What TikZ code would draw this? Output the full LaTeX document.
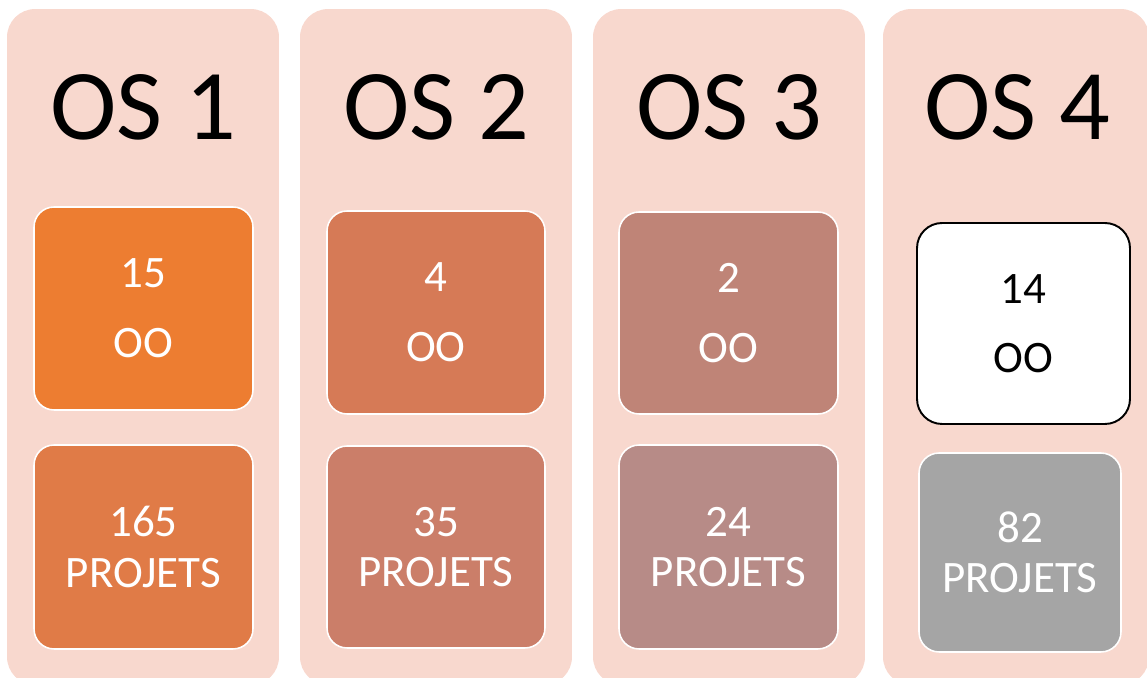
\documentclass[tikz,border=0pt]{standalone}
\usepackage{fontspec}
\setmainfont{Carlito}
\usepackage{tikz}
\usetikzlibrary{positioning}
\definecolor{panelbg}{HTML}{F8D8CE}
\definecolor{osone}{HTML}{ED7D31}
\definecolor{osonep}{HTML}{E07B47}
\definecolor{ostwo}{HTML}{D67A56}
\definecolor{ostwop}{HTML}{CB7E69}
\definecolor{osthree}{HTML}{BF8477}
\definecolor{osthreep}{HTML}{B78B87}
\definecolor{osfourp}{HTML}{A5A5A5}
\tikzset{x=0.02cm, y=-0.02cm}
\tikzstyle{panel} = [fill=panelbg, rectangle, rounded corners=0.56cm, minimum width=5.44cm, minimum height=13.52cm, inner sep=0pt]
\tikzstyle{title} = [anchor=base, font=\fontsize{57}{57}\selectfont]
\tikzstyle{oobox} = [draw=white, line width=0.9pt, rectangle, rounded corners=0.4cm, text=white, align=center, inner sep=0pt, font=\fontsize{25.6}{28.5}\selectfont]
\tikzstyle{projbox} = [oobox]

\begin{document}
\begin{tikzpicture}
    \useasboundingbox (0,0) rectangle (1147,678);
    \clip (0,0) rectangle (1147,678);
    % colonnes
    \node [panel] (os1) at (143,347) {};
    \node [panel] (os2) at (436,347) {};
    \node [panel] (os3) at (729,347) {};
    \node [panel, minimum width=5.32cm] (os4) at (1016,347) {};
    \node [title] (t1) at (143,140) {OS 1};
    \node [title] (t2) at (436,140) {OS 2};
    \node [title] (t3) at (729,140) {OS 3};
    \node [title] (t4) at (1017,140) {OS 4};
    % OO
    \node [oobox, fill=osone, minimum width=4.38cm, minimum height=4.06cm] (oo1) at (143.5,308.5) {15\\[11.3pt]OO};
    \node [oobox, fill=ostwo, minimum width=4.36cm, minimum height=4.06cm] (oo2) at (436,312.5) {4\\[11.3pt]OO};
    \node [oobox, fill=osthree, minimum width=4.38cm, minimum height=4.04cm] (oo3) at (728.5,313) {2\\[11.3pt]OO};
    \node [oobox, draw=black, line width=1.1pt, fill=white, text=black, rounded corners=0.5cm, minimum width=4.26cm, minimum height=4.02cm] (oo4) at (1023.5,323.5) {14\\[10.5pt]OO};
    % projets
    \node [projbox, fill=osonep, minimum width=4.38cm, minimum height=4.08cm] (p1) at (143.5,547) {165\\PROJETS};
    \node [projbox, fill=ostwop, minimum width=4.36cm, minimum height=4.04cm] (p2) at (436,547) {35\\PROJETS};
    \node [projbox, fill=osthreep, minimum width=4.38cm, minimum height=4.08cm] (p3) at (728.5,547) {24\\PROJETS};
    \node [projbox, fill=osfourp, minimum width=4.04cm, minimum height=3.98cm] (p4) at (1020,552.5) {82\\PROJETS};
\end{tikzpicture}
\end{document}
